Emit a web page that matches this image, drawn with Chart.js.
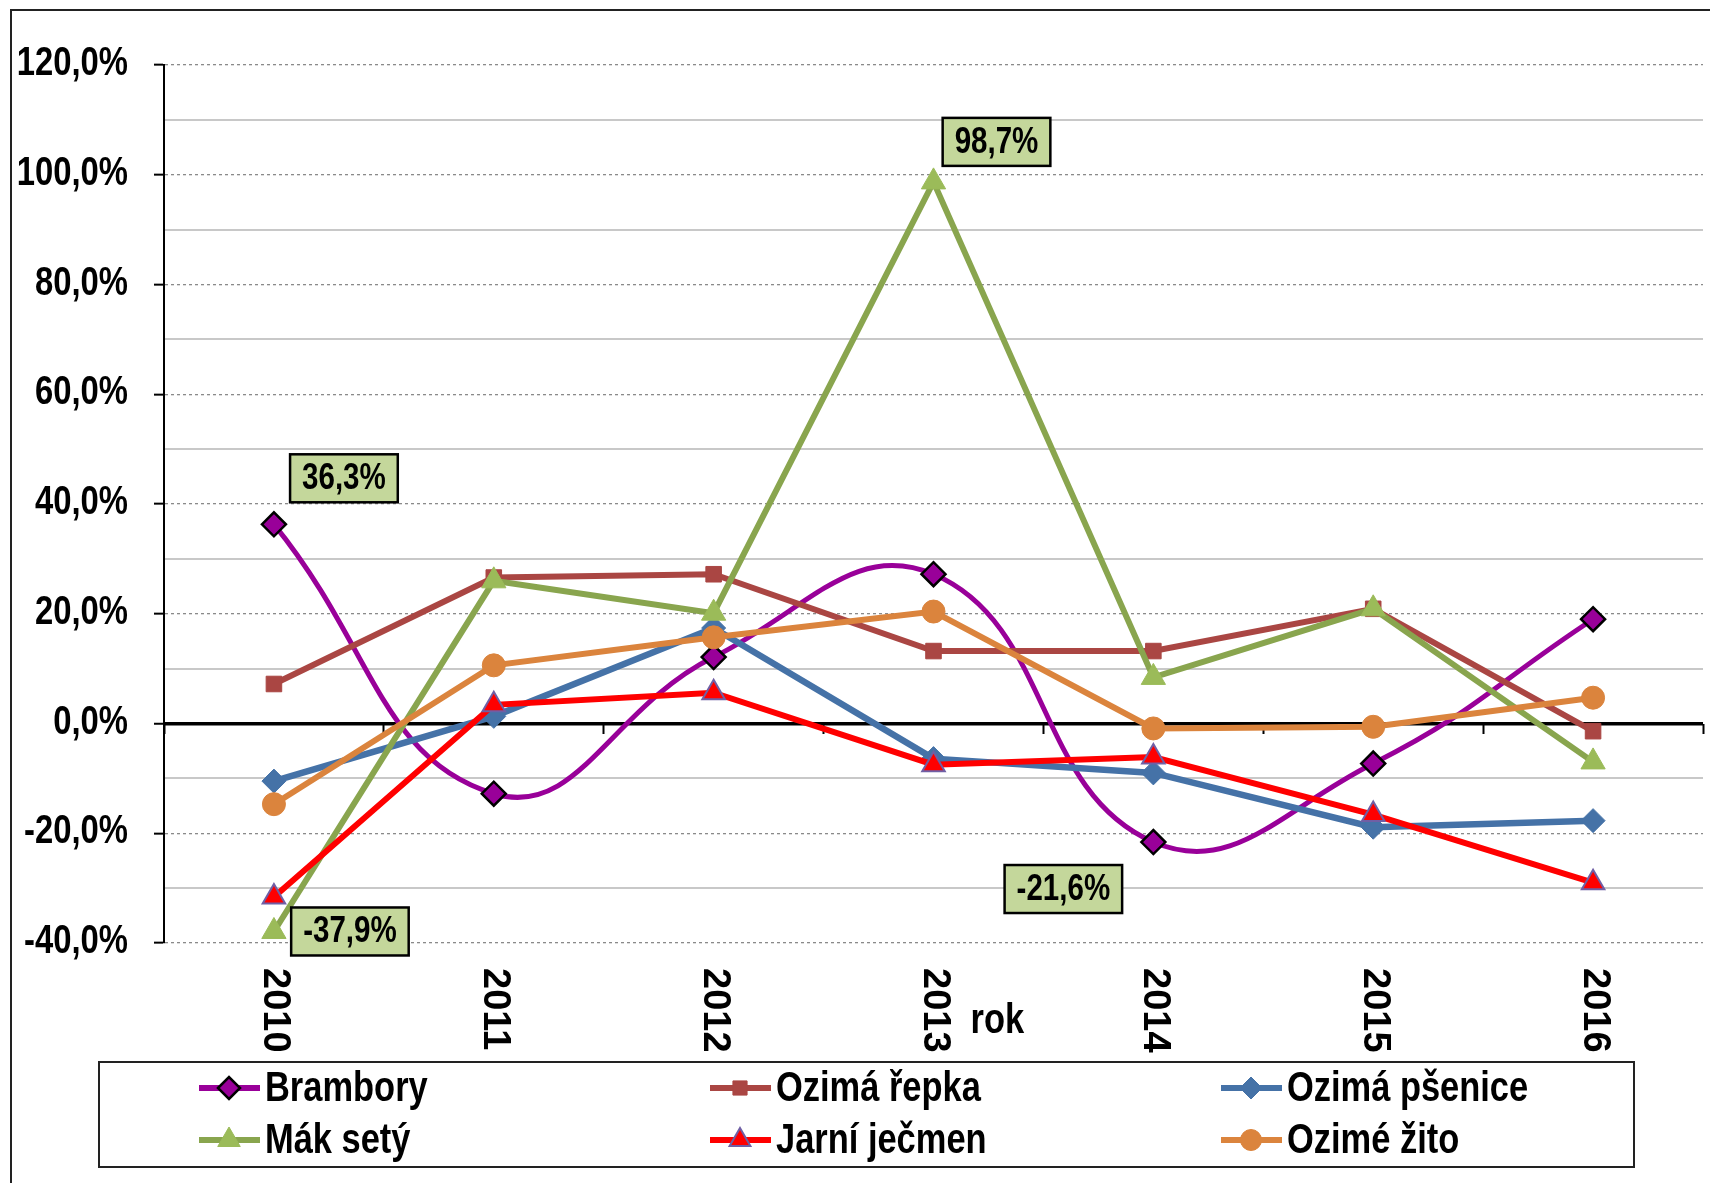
<!DOCTYPE html>
<html>
<head>
<meta charset="utf-8">
<script src="https://cdn.jsdelivr.net/npm/chart.js@4.4.1/dist/chart.umd.min.js"></script>
<style>
  html, body { margin: 0; padding: 0; background: #fff; }
  #wrap { width: 1710px; height: 1183px; position: relative; }
</style>
</head>
<body>
<div id="wrap"><canvas id="chart"></canvas></div>
<script>
// categories
const years = ["2010", "2011", "2012", "2013", "2014", "2015", "2016"];

// series values (%)
const brambory      = [36.3, -12.8, 12.1, 27.2, -21.6, -7.3, 19.0];
const ozimaRepka    = [7.2, 26.6, 27.2, 13.2, 13.2, 20.9, -1.4];
const ozimaPsenice  = [-10.5, 1.3, 17.4, -6.4, -9.0, -18.9, -17.7];
const makSety       = [-37.9, 26.0, 20.1, 98.7, 8.4, 20.9, -7.0];
const jarniJecmen   = [-31.6, 3.4, 5.6, -7.5, -6.1, -16.6, -29.0];
const ozimeZito     = [-14.7, 10.6, 15.7, 20.4, -0.9, -0.6, 4.7];

// y axis
const yMin = -40;
const yMax = 120;
const yStep = 10;
const yLabelStep = 20;

const xTitle = "rok";

// no Arial Narrow here, so squeeze Liberation Sans by hand
const FACE = "'Liberation Sans', Arial, sans-serif";
const SQUEEZE = 0.82;

const pct = (v) => v.toFixed(1).replace(".", ",") + "%";

function narrowText(ctx, text, x, y, size, align) {
    ctx.save();
    ctx.font = "bold " + size + "px " + FACE;
    ctx.textAlign = align;
    ctx.textBaseline = "middle";
    ctx.translate(x, y);
    ctx.scale(SQUEEZE, 1);
    ctx.fillText(text, 0, 0);
    ctx.restore();
}

function narrowWidth(ctx, text, size) {
    ctx.save();
    ctx.font = "bold " + size + "px " + FACE;
    const w = ctx.measureText(text).width * SQUEEZE;
    ctx.restore();
    return w;
}

const frame = {
    id: "frame",
    beforeDraw(chart) {
        const { ctx, width, height } = chart;
        ctx.save();
        ctx.fillStyle = "#fff";
        ctx.fillRect(0, 0, width, height);
        ctx.strokeStyle = "#222";
        ctx.lineWidth = 2;
        ctx.beginPath();
        ctx.moveTo(11, height);
        ctx.lineTo(11, 10);
        ctx.lineTo(width, 10);
        ctx.stroke();
        ctx.restore();
    }
};

// y tick labels, years turned clockwise, and the axis title
const axisText = {
    id: "axisText",
    afterDraw(chart, args, opts) {
        const { ctx, chartArea } = chart;
        const x = chart.scales.x;
        const y = chart.scales.y;
        ctx.save();
        ctx.fillStyle = "#000";
        y.ticks.forEach((t) => {
            if (t.value % yLabelStep !== 0) return;
            narrowText(ctx, pct(t.value), opts.yRight, y.getPixelForValue(t.value) - 1, 40, "right");
        });
        ctx.font = "bold 38px " + FACE;
        ctx.textAlign = "left";
        ctx.textBaseline = "middle";
        chart.data.labels.forEach((lab, i) => {
            ctx.save();
            ctx.translate(x.getPixelForValue(i) + 1, chartArea.bottom + opts.gap);
            ctx.rotate(Math.PI / 2);
            ctx.fillText(lab, 0, 0);
            ctx.restore();
        });
        narrowText(ctx, xTitle, x.getPixelForValue(3) + opts.titleDx, chartArea.bottom + opts.titleDy, 42, "left");
        ctx.restore();
    }
};

// green value boxes
const valueBoxes = {
    id: "valueBoxes",
    afterDatasetsDraw(chart, args, opts) {
        const { ctx } = chart;
        ctx.save();
        opts.items.forEach((it) => {
            const pt = chart.getDatasetMeta(it.ds).data[it.i];
            const text = pct(chart.data.datasets[it.ds].data[it.i]);
            const w = narrowWidth(ctx, text, 36) + 24;
            const h = 48;
            const cx = pt.x + it.dx;
            const cy = pt.y + it.dy;
            ctx.fillStyle = "#c4d79b";
            ctx.fillRect(cx - w / 2, cy - h / 2, w, h);
            ctx.lineWidth = 2.5;
            ctx.strokeStyle = "#000";
            ctx.strokeRect(cx - w / 2, cy - h / 2, w, h);
            ctx.fillStyle = "#000";
            narrowText(ctx, text, cx, cy + 1, 36, "center");
        });
        ctx.restore();
    }
};

// boxed legend, three columns
const boxLegend = {
    id: "boxLegend",
    afterDraw(chart, args, opts) {
        const { ctx } = chart;
        const b = opts.box;
        ctx.save();
        ctx.lineWidth = 2;
        ctx.strokeStyle = "#222";
        ctx.strokeRect(b.left, b.top, b.width, b.height);
        chart.data.datasets.forEach((ds, j) => {
            const col = j % 3;
            const row = Math.floor(j / 3);
            const x0 = b.left + opts.firstCol + col * opts.colStep;
            const y0 = b.top + opts.firstRow + row * opts.rowStep;
            ctx.strokeStyle = ds.borderColor;
            ctx.lineWidth = 6;
            ctx.beginPath();
            ctx.moveTo(x0, y0);
            ctx.lineTo(x0 + 61, y0);
            ctx.stroke();
            ctx.fillStyle = ds.pointBackgroundColor;
            ctx.strokeStyle = ds.pointBorderColor;
            ctx.lineWidth = ds.pointBorderWidth;
            Chart.helpers.drawPoint(ctx, {
                pointStyle: ds.pointStyle,
                radius: ds.pointRadius - 1,
                rotation: 0,
                borderWidth: ds.pointBorderWidth
            }, x0 + 30, y0);
            ctx.fillStyle = "#000";
            narrowText(ctx, ds.label, x0 + 66, y0 + 1, 42, "left");
        });
        ctx.restore();
    }
};

function series(label, data, color, style, radius, fill, edge, edgeWidth, lineWidth, smooth) {
    return {
        label,
        data,
        borderColor: color,
        borderWidth: lineWidth,
        backgroundColor: color,
        pointStyle: style,
        pointRadius: radius,
        pointHoverRadius: radius,
        pointBackgroundColor: fill,
        pointBorderColor: edge,
        pointBorderWidth: edgeWidth,
        tension: smooth ? 0.45 : 0,
        fill: false
    };
}

const datasets = [
    series("Brambory", brambory, "#990099", "rectRot", 12, "#990099", "#000", 2.5, 5, true),
    series("Ozimá řepka", ozimaRepka, "#aa4643", "rect", 11, "#aa4643", "#aa4643", 1, 6, false),
    series("Ozimá pšenice", ozimaPsenice, "#4572a7", "rectRot", 12, "#4572a7", "#4572a7", 1, 6.5, false),
    series("Mák setý", makSety, "#89a54e", "triangle", 14, "#9bbb59", "#9bbb59", 1, 6, false),
    series("Jarní ječmen", jarniJecmen, "#ff0000", "triangle", 13, "#ff0000", "#6f5fa5", 2, 6, false),
    series("Ozimé žito", ozimeZito, "#db843d", "circle", 11.5, "#db843d", "#db843d", 1, 6, false)
];
// later series on top
datasets.forEach((d, i) => { d.order = -i; });

new Chart(document.getElementById("chart"), {
    type: "line",
    data: { labels: years, datasets },
    options: {
        responsive: true,
        maintainAspectRatio: false,
        animation: false,
        devicePixelRatio: 1,
        layout: { autoPadding: false, padding: { left: 0, top: 65, right: 7, bottom: 240 } },
        plugins: {
            legend: { display: false },
            tooltip: { enabled: false },
            axisText: { yRight: 128, gap: 25, titleDx: 37, titleDy: 78 },
            valueBoxes: {
                items: [
                    { ds: 0, i: 0, dx: 70, dy: -46 },
                    { ds: 0, i: 4, dx: -90, dy: 47 },
                    { ds: 3, i: 0, dx: 76, dy: 0 },
                    { ds: 3, i: 3, dx: 63, dy: -40 }
                ]
            },
            boxLegend: {
                box: { left: 99, top: 1062, width: 1535, height: 105 },
                firstCol: 100, colStep: 511, firstRow: 26, rowStep: 52
            }
        },
        scales: {
            x: {
                type: "category",
                display: false,
                offset: true
            },
            x2: {
                type: "category",
                labels: years,
                offset: true,
                position: { y: 0 },
                ticks: { display: false },
                border: { display: false },
                grid: {
                    offset: true,
                    drawOnChartArea: false,
                    drawTicks: true,
                    tickLength: 10,
                    tickWidth: 2,
                    tickColor: "#000"
                }
            },
            y: {
                min: yMin,
                max: yMax,
                afterFit: (s) => { s.width = 164; },
                ticks: {
                    stepSize: yStep,
                    autoSkip: false,
                    display: false
                },
                border: {
                    display: true,
                    color: "#000",
                    width: 2,
                    dash: (c) => (c.tick && c.tick.value % yLabelStep === 0 && c.tick.value !== 0 ? [3, 3] : [])
                },
                grid: {
                    drawTicks: true,
                    tickLength: 10,
                    tickWidth: 2,
                    tickColor: (c) => (c.tick && c.tick.value % yLabelStep === 0 ? "#000" : "rgba(0,0,0,0)"),
                    color: (c) => {
                        if (!c.tick) return "#c8c8c8";
                        if (c.tick.value === 0) return "#000";
                        return c.tick.value % yLabelStep === 0 ? "#8a8a8a" : "#c8c8c8";
                    },
                    lineWidth: (c) => {
                        if (!c.tick) return 2;
                        if (c.tick.value === 0) return 3.5;
                        return c.tick.value % yLabelStep === 0 ? 1.3 : 2;
                    }
                }
            }
        }
    },
    plugins: [frame, axisText, valueBoxes, boxLegend]
});
</script>
</body>
</html>
